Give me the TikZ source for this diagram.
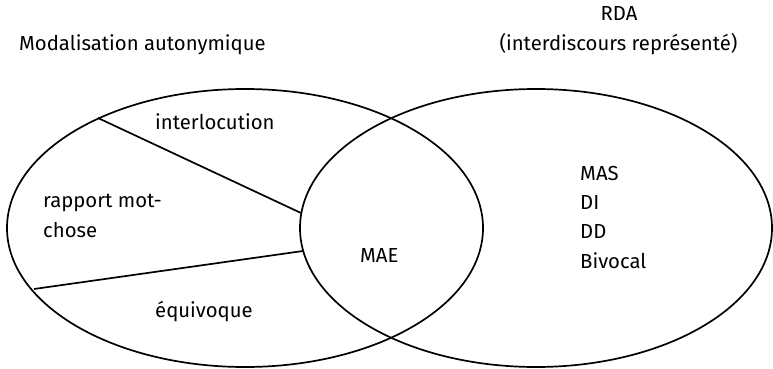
\documentclass[tikz,border=0pt]{standalone}
\usepackage{fontspec}
\setmainfont{Fira Sans}
\usetikzlibrary{shapes.geometric}
\begin{document}
\begin{tikzpicture}[x=1pt,y=-1pt,
  lbl/.style={inner sep=0pt,font=\fontsize{20.3}{29.3}\selectfont},
  set/.style={draw,line width=1.7pt},
  div/.style={draw,line width=1.7pt}]
\useasboundingbox (0,0) rectangle (773,369);
\draw[set] (245,228) ellipse [x radius=238, y radius=139];
\draw[set] (536,228) ellipse [x radius=236, y radius=139];
\coordinate (a1) at (98,118);
\coordinate (b1) at (301,213);
\coordinate (a2) at (34,289);
\coordinate (b2) at (303,251);
\draw[div] (a1) -- (b1);
\draw[div] (a2) -- (b2);
\node[lbl,anchor=base west] (ma) at (19,51) {Modalisation autonymique};
\node[lbl,anchor=base] (rda) at (619,21) {RDA};
\node[lbl,anchor=base] (ir) at (618.5,51) {(interdiscours représenté)};
\node[lbl,anchor=base west] (il) at (155,129) {interlocution};
\node[lbl,anchor=base west,align=left] (rm) at (43,237) {rapport mot-\\chose};
\node[lbl,anchor=base west] (mae) at (360,262) {MAE};
\node[lbl,anchor=base west] (eq) at (155,317) {équivoque};
\node[lbl,anchor=base west,align=left] (mas) at (580,268) {MAS\\DI\\DD\\Bivocal};
\end{tikzpicture}
\end{document}
